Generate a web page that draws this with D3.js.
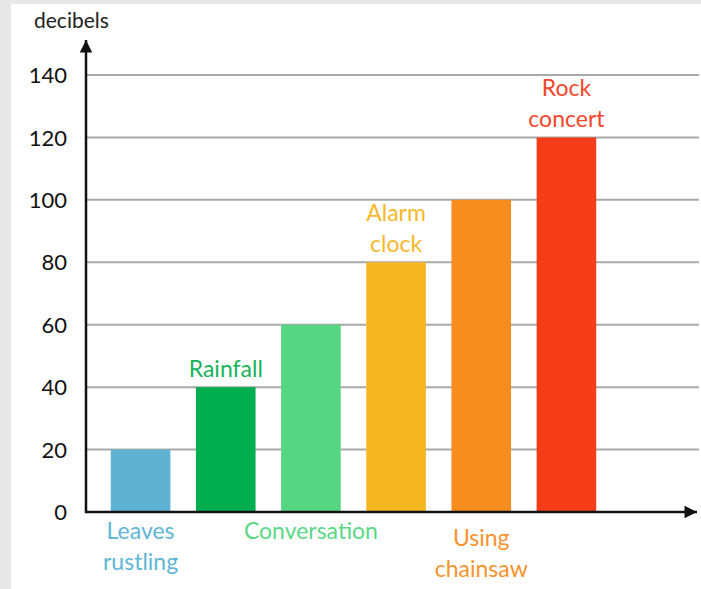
<!DOCTYPE html>
<html>
<head>
<meta charset="utf-8">
<script src="https://cdn.jsdelivr.net/npm/d3@7"></script>
<style>
  html, body { margin: 0; padding: 0; background: #e8e8e8; }
  svg { display: block; }
</style>
</head>
<body>
<script>
// Sound levels of everyday noises, in decibels
const categories = ["Leaves rustling", "Rainfall", "Conversation", "Alarm clock", "Using chainsaw", "Rock concert"];
const labelLines = [["Leaves", "rustling"], ["Rainfall"], ["Conversation"], ["Alarm", "clock"], ["Using", "chainsaw"], ["Rock", "concert"]];
const values = [20, 40, 60, 80, 100, 120];
const colors = ["#60b2d3", "#00ad4f", "#56d683", "#f6b820", "#f68d1e", "#f63d1a"];
const labelColors = ["#5fb6d6", "#17b25a", "#5bd787", "#f6b82a", "#f7922c", "#f5452a"];
// label placement: below the axis or above the bar
const labelAbove = [false, true, false, true, false, true];
const yTicks = [0, 20, 40, 60, 80, 100, 120, 140];

const W = 701, H = 589;
const svg = d3.select("body").append("svg").attr("width", W).attr("height", H);

// white panel
svg.append("rect").attr("x", 11).attr("y", 4).attr("width", W - 11).attr("height", H - 4).attr("fill", "#fff");

const font = "Lato, 'Open Sans', sans-serif";
const x0 = 86, yBase = 512;

const y = d3.scaleLinear().domain([0, 140]).range([yBase, 75]);
const x = d3.scaleBand().domain(categories).range([98, 609]).paddingInner(0.3).paddingOuter(0.15);

// gridlines
svg.append("g").selectAll("line").data(yTicks.filter(d => d > 0)).join("line")
  .attr("x1", x0).attr("x2", 699)
  .attr("y1", d => y(d)).attr("y2", d => y(d))
  .attr("stroke", "#a9a9a9").attr("stroke-width", 2);

// bars
svg.append("g").selectAll("rect").data(categories).join("rect")
  .attr("x", d => x(d))
  .attr("width", x.bandwidth())
  .attr("y", (d, i) => y(values[i]))
  .attr("height", (d, i) => yBase - y(values[i]))
  .attr("fill", (d, i) => colors[i]);

// y tick labels
const yAxis = d3.axisLeft(y).tickValues(yTicks).tickSize(0).tickPadding(19);
const gy = svg.append("g").attr("transform", `translate(${x0},0)`).call(yAxis);
gy.select(".domain").remove();
gy.selectAll("text").attr("font-family", font).attr("font-size", 22).attr("fill", "#111").attr("dy", "0.35em");

// axes lines with arrows
const defs = svg.append("defs");
defs.append("marker").attr("id", "arrow").attr("viewBox", "0 0 10 10")
  .attr("refX", 10).attr("refY", 5).attr("markerWidth", 6).attr("markerHeight", 5)
  .attr("markerUnits", "strokeWidth").attr("orient", "auto")
  .append("path").attr("d", "M0,0 L10,5 L0,10 z").attr("fill", "#111");

svg.append("line").attr("x1", x0).attr("x2", x0).attr("y1", yBase + 1).attr("y2", 40)
  .attr("stroke", "#111").attr("stroke-width", 2.5).attr("marker-end", "url(#arrow)");
svg.append("line").attr("x1", x0 - 1).attr("x2", 697).attr("y1", yBase).attr("y2", yBase)
  .attr("stroke", "#111").attr("stroke-width", 2.5).attr("marker-end", "url(#arrow)");

svg.append("text").attr("x", 34).attr("y", 28).text("decibels")
  .attr("font-family", font).attr("font-size", 21).attr("fill", "#222");

// category labels
const lineH = 31;
const lab = svg.append("g");
categories.forEach((c, i) => {
  const cx = x(c) + x.bandwidth() / 2;
  const lines = labelLines[i];
  let firstY;
  if (labelAbove[i]) {
    firstY = y(values[i]) - 10 - (lines.length - 1) * lineH;
  } else {
    firstY = i === 4 ? 546 : 539;
  }
  lines.forEach((t, k) => {
    lab.append("text").attr("x", cx).attr("y", firstY + k * lineH)
      .attr("text-anchor", "middle").attr("font-family", font).attr("font-size", 23)
      .attr("fill", labelColors[i]).text(t);
  });
});
</script>
</body>
</html>
